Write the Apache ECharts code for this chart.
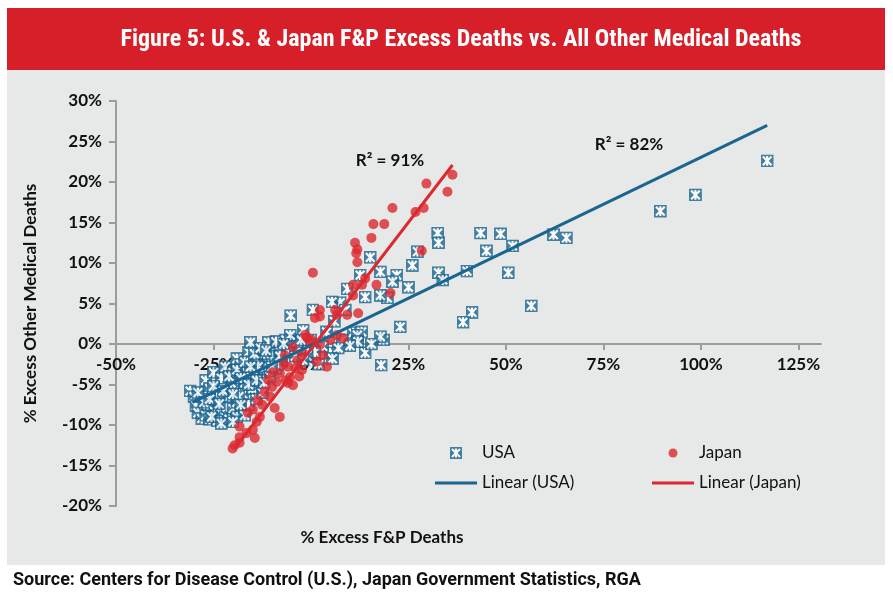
<!DOCTYPE html>
<html><head><meta charset="utf-8">
<script src="https://cdn.jsdelivr.net/npm/echarts@6/dist/echarts.min.js"></script>
<style>html,body{margin:0;padding:0;background:#fff;}#c{width:893px;height:600px;}</style>
</head><body><div id="c"></div>
<script>
const usaX = [117,98.6,89.6,62.2,65.5,48.6,51.7,45,50.6,56.5,43.5,40,41.3,39,32.5,32.7,32.7,33.8,27.3,26,25,22.9,18.6,18,22,20.9,17.8,15.2,12.6,13.9,19.6,17.8,9.3,7.5,5.4,8.8,0.5,-2,10.8,13,17.8,11.9,13.9,4.9,12,8,-5.2,2,3,7,1,10,4,6,5.5,-1,15.5,
 -31,-30,-29.5,-29,-28,-27,-26,-25,-24.5,-24,-23,-22,-21.5,-21,-20,-19.5,-19,-18,-17.5,-17,-16,-15,-14.5,-14,-13,-12,-12.5,-11,-10.5,-10,-9,-8,-7.5,-6,-5,-4,-3,-2,-1,0,-27,-26,-25,-23,-22,-20,-19,-18,-16,-15.5,-10.9,-14,-9,-6.5,-28,-26.5,-24,-21,-19,-17,-20.5,-18.5,-16.5,-13.5,-12,-8.5,-3.5,-2.5,-5.3,
 -29,-27.5,-26,-25,-23.5,-22.5,-21,-20,-19,-18,-17,-15.5,-14.5,-13,-11.5,-10,-8,-7,-25.5,-23,-20,-18,-16,-14,-12];
const usaY = [22.6,18.4,16.4,13.5,13.1,13.6,12.1,11.5,8.8,4.7,13.7,9.0,3.9,2.7,13.7,12.5,8.8,7.9,11.4,9.7,7.0,2.1,0.5,-2.6,8.5,7.7,8.9,10.7,8.5,5.8,5.7,6.0,6.8,5.1,5.2,4.2,4.2,1.7,1.4,1.5,0.9,1.1,-1.1,-1.1,0.3,0.5,3.5,-2.5,-0.3,-0.5,-1,-0.2,1.5,2.8,-1.8,-1.5,0.0,
 -5.8,-6.5,-7.6,-8.5,-9.2,-8.8,-9.3,-8.2,-7,-6,-8.6,-9,-7.8,-6.5,-8,-5.2,-7.2,-8.5,-6.2,-4.8,-7.5,-5.5,-3.8,-6.8,-4.5,-3,-6,-2.2,-4,-1.5,-3,-0.8,-2,-1,0.2,-1.5,-0.5,-2,-0.5,0.5,-4.5,-5.5,-3.5,-4.2,-2.8,-3.5,-1.8,-2.5,-1,0.2,0.2,-2,0.3,0.5,-6.5,-7.5,-9.5,-9.3,-9,-8.8,-4.8,-6.5,-3.5,-2.8,-1.2,-2.5,0.3,0.5,1.1,
 -6,-7.2,-6.8,-5.2,-7.4,-5.8,-4,-6.2,-3.2,-4.2,-2.2,-2.8,-1.2,-0.5,-0.8,-2.8,-1.5,0,-9,-9.8,-9.6,-7.5,-5,-4.5,-4.8];
const japanX = [36.3,29.6,35,26.8,28.9,20.9,16,18.8,15.5,11.3,11.9,11.6,11.9,28.4,0.5,13.9,10.8,13.1,16.8,10.8,20.4,2.3,2.3,1.0,6.2,6.7,9.3,12.1,-1.5,0.3,8.2,-0.3,-4.6,2.3,3.1,6.7,4.1,-6.7,-2.1,1.5,-5.9,-2.3,-8,-5.4,-8.8,-5.9,-4.6,-10,-9.3,-8,-9.8,-11,-11.9,-13.7,-14.9,-16.2,-13.1,-13.9,-14.9,-16.5,-18.3,-18.3,-19.6,-18.3,-14.4,-20.1,-7,-3.5,-1,5,-12.5,-10.5,-6.5,-3,-4];
const japanY = [20.9,19.8,18.8,16.3,16.8,16.8,14.8,14.8,13.1,12.5,11.7,11.2,10.1,11.5,8.8,8.1,7.3,7.3,7.3,6.0,6.3,4.2,3.4,3.2,4.2,3.6,3.6,3.8,1.1,0.5,0.7,0.3,-0.4,-0.1,-1.4,1.1,-2.8,-1.4,-1.1,-2.2,-2.8,-3.2,-3.6,-4.1,-4.7,-4.8,-5.1,-5.3,-7.9,-9.0,-3.5,-4.4,-5.9,-6.9,-8.1,-8.5,-9,-9.6,-10.6,-11,-10.2,-11.5,-12.5,-12.2,-11.6,-12.9,-2.5,-2,0.8,0.5,-7.5,-6.5,-4.5,-4,-3];
const usaTrendX = [-30.4, 117];
const usaTrendY = [-7.2, 27.0];
const japanTrendX = [-19.4, 36.3];
const japanTrendY = [-12.8, 22.1];
const xTicks = [-50,-25,0,25,50,75,100,125];
const yTicks = [-20,-15,-10,-5,0,5,10,15,20,25,30];
const titleText = 'Figure 5: U.S. & Japan F&P Excess Deaths vs. All Other Medical Deaths';
const sourceText = 'Source: Centers for Disease Control (U.S.), Japan Government Statistics, RGA';

const BLUE = '#1B6590', RED = '#DC282E', AXIS = '#9C9C9C';
const svg = "<svg xmlns='http://www.w3.org/2000/svg' width='24' height='24'><rect width='24' height='24' fill='" + BLUE + "'/><path d='M4 4L20 20M20 4L4 20M12 3V21' stroke='white' stroke-width='4'/></svg>";
const usaSymbol = 'image://data:image/svg+xml;charset=utf-8,' + encodeURIComponent(svg);
const lineIcon = 'path://M0 0H42V3H0Z';

const zip = (a, b) => a.map((v, i) => [v, b[i]]);
const chart = echarts.init(document.getElementById('c'), null, {renderer: 'canvas'});
const F = 'Lato, "Open Sans", sans-serif';
const GRID_H = 405, Y_MIN = -20, Y_MAX = 30;
chart.setOption({
  animation: false,
  backgroundColor: '#fff',
  graphic: [
    {type: 'rect', left: 7, top: 8, shape: {width: 878, height: 62}, style: {fill: '#D61F29'}, z: -10},
    {type: 'rect', left: 7, top: 70, shape: {width: 878, height: 495}, style: {fill: '#E7E8E8'}, z: -10},
    {type: 'text', x: 461, y: 40, style: {text: titleText, fill: '#fff', font: 'bold 24px "Liberation Sans Narrow", "Roboto Condensed", Lato, sans-serif', textAlign: 'center', textVerticalAlign: 'middle'}},
    {type: 'text', x: 13, y: 580, style: {text: sourceText, fill: '#111', font: 'bold 18px Roboto, sans-serif', textAlign: 'left', textVerticalAlign: 'middle'}},
    {type: 'text', x: 382, y: 538, style: {text: '% Excess F&P Deaths', fill: '#111', font: 'bold 17px ' + F, textAlign: 'center', textVerticalAlign: 'middle'}},
    {type: 'text', x: 390, y: 161, style: {text: 'R² = 91%', fill: '#111', font: 'bold 17px ' + F, textAlign: 'center', textVerticalAlign: 'middle'}},
    {type: 'text', x: 629, y: 145, style: {text: 'R² = 82%', fill: '#111', font: 'bold 17px ' + F, textAlign: 'center', textVerticalAlign: 'middle'}}
  ],
  grid: {left: 116, top: 101, width: 705, height: GRID_H, containLabel: false},
  xAxis: {
    type: 'value', min: -50, max: 130.8, interval: 25,
    offset: -GRID_H * (0 - Y_MIN) / (Y_MAX - Y_MIN),
    axisLine: {onZero: false, lineStyle: {color: AXIS, width: 2}},
    axisTick: {show: true, length: 6, inside: false, lineStyle: {color: AXIS, width: 2}, customValues: xTicks},
    axisLabel: {customValues: xTicks, formatter: v => v + '%', color: '#111', fontFamily: F, fontSize: 17, fontWeight: 'bold', margin: 12},
    splitLine: {show: false}
  },
  yAxis: {
    type: 'value', min: Y_MIN, max: Y_MAX, interval: 5,
    name: '% Excess Other Medical Deaths', nameLocation: 'middle', nameGap: 77, nameRotate: 90,
    nameTextStyle: {color: '#111', fontFamily: F, fontSize: 17, fontWeight: 'bold'},
    axisLine: {onZero: false, lineStyle: {color: AXIS, width: 2}},
    axisTick: {show: true, length: 7, lineStyle: {color: AXIS, width: 2}, customValues: yTicks},
    axisLabel: {customValues: yTicks, formatter: v => v + '%', color: '#111', fontFamily: F, fontSize: 17, fontWeight: 'bold', margin: 14},
    splitLine: {show: false}
  },
  legend: [
    {orient: 'vertical', left: 430, top: 438, itemWidth: 42, itemHeight: 12, itemGap: 10,
     data: ['USA', {name: 'Linear (USA)', icon: lineIcon}],
     textStyle: {fontFamily: F, fontSize: 17, color: '#111', lineHeight: 20}},
    {orient: 'vertical', left: 647, top: 438, itemWidth: 42, itemHeight: 9, itemGap: 10,
     data: ['Japan', {name: 'Linear (Japan)', icon: lineIcon}],
     textStyle: {fontFamily: F, fontSize: 17, color: '#111', lineHeight: 20}}
  ],
  series: [
    {name: 'USA', type: 'scatter', symbol: usaSymbol, symbolSize: 13, data: zip(usaX, usaY), itemStyle: {color: BLUE}, z: 2},
    {name: 'Japan', type: 'scatter', symbol: 'circle', symbolSize: 10, data: zip(japanX, japanY), itemStyle: {color: RED}, z: 3},
    {name: 'Linear (USA)', type: 'line', data: zip(usaTrendX, usaTrendY), symbol: 'none', lineStyle: {color: BLUE, width: 3}, itemStyle: {color: BLUE}, z: 4},
    {name: 'Linear (Japan)', type: 'line', data: zip(japanTrendX, japanTrendY), symbol: 'none', lineStyle: {color: RED, width: 3}, itemStyle: {color: RED}, z: 5}
  ]
});
</script></body></html>
